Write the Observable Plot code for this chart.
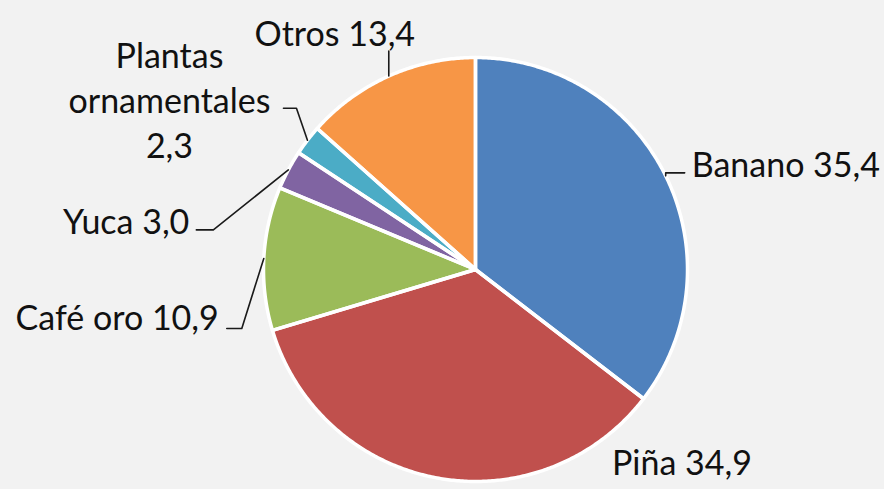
<!DOCTYPE html>
<html>
<head>
<meta charset="utf-8">
<script src="https://cdn.jsdelivr.net/npm/d3@7"></script>
<script src="https://cdn.jsdelivr.net/npm/@observablehq/plot@0.6"></script>
<style>
  html, body { margin: 0; padding: 0; background: #F2F2F2; }
  #chart svg { display: block; }
</style>
</head>
<body>
<div id="chart"></div>
<script>
// ---- data ----
const categories = ["Banano", "Piña", "Café oro", "Yuca", "Plantas ornamentales", "Otros"];
const values = [35.4, 34.9, 10.9, 3.0, 2.3, 13.4];
const labelTexts = ["Banano 35,4", "Piña 34,9", "Café oro 10,9", "Yuca 3,0", "Plantas\nornamentales\n2,3", "Otros 13,4"];
const colors = ["#4F81BD", "#C0504D", "#9BBB59", "#8064A2", "#4BACC6", "#F79646"];

// ---- layout (pixels) ----
const W = 884, H = 489;
const cx = 475, cy = 269, R = 212;
// leader elbow / end offsets relative to slice edge point, and label anchor
const labelLayout = [
  {elbow: [0, -3], end: [19, -3], text: [26, -13], anchor: "start"},
  {elbow: null, end: null, text: [175, -17], anchor: "start"},
  {elbow: [-22, 70], end: [-37, 70], text: [-45, 57], anchor: "end"},
  {elbow: [-75, 60], end: [-92, 60], text: [-99, 50], anchor: "end"},
  {elbow: [-11, -32], end: [-24, -32], text: [-138, -42], anchor: "middle"},
  {elbow: [0, -25], end: [0, -25], text: [-54, -45], anchor: "middle"}
];

const total = d3.sum(values);
let cum = 0;
const slices = categories.map((c, i) => {
  const a0 = cum / total * 2 * Math.PI;
  cum += values[i];
  const a1 = cum / total * 2 * Math.PI;
  return {cat: c, a0, a1, mid: (a0 + a1) / 2, i};
});
const px = a => cx + R * Math.sin(a);
const py = a => cy - R * Math.cos(a);

const poly = [];
for (const s of slices) {
  poly.push({cat: s.cat, x: cx, y: cy});
  const n = Math.max(2, Math.ceil((s.a1 - s.a0) / (Math.PI / 360)));
  for (let k = 0; k <= n; k++) {
    const a = s.a0 + (s.a1 - s.a0) * k / n;
    poly.push({cat: s.cat, x: px(a), y: py(a)});
  }
  poly.push({cat: s.cat, x: cx, y: cy});
}

const leaders = [];
const labels = [];
slices.forEach((s, i) => {
  const L = labelLayout[i];
  const ex = px(s.mid), ey = py(s.mid);
  if (L.elbow) {
    leaders.push({cat: s.cat, x: ex, y: ey});
    leaders.push({cat: s.cat, x: ex + L.elbow[0], y: ey + L.elbow[1]});
    leaders.push({cat: s.cat, x: ex + L.end[0], y: ey + L.end[1]});
  }
  labels.push({text: labelTexts[i], x: ex + L.text[0], y: ey + L.text[1], anchor: L.anchor});
});

const fontFamily = "Lato, 'Open Sans', sans-serif";
const chart = Plot.plot({
  width: W, height: H,
  margin: 0,
  style: {background: "#F2F2F2", fontFamily},
  x: {domain: [0, W], range: [0, W], axis: null},
  y: {domain: [0, H], range: [0, H], axis: null},
  color: {domain: categories, range: colors},
  marks: [
    Plot.line(poly, {x: "x", y: "y", z: "cat", fill: "cat", stroke: null, curve: "linear"}),
    Plot.line(poly, {x: "x", y: "y", z: "cat", stroke: "white", strokeWidth: 3.5, strokeLinejoin: "round", curve: "linear"}),
    Plot.line(leaders, {x: "x", y: "y", z: "cat", stroke: "#1a1a1a", strokeWidth: 1.6}),
    ...["start", "middle", "end"].map(anc =>
      Plot.text(labels.filter(d => d.anchor === anc), {
        x: "x", y: "y", text: "text", textAnchor: anc, lineAnchor: "middle",
        fontSize: 34, lineHeight: 1.33, fill: "#111"
      }))
  ]
});
document.getElementById("chart").appendChild(chart);
</script>
</body>
</html>
